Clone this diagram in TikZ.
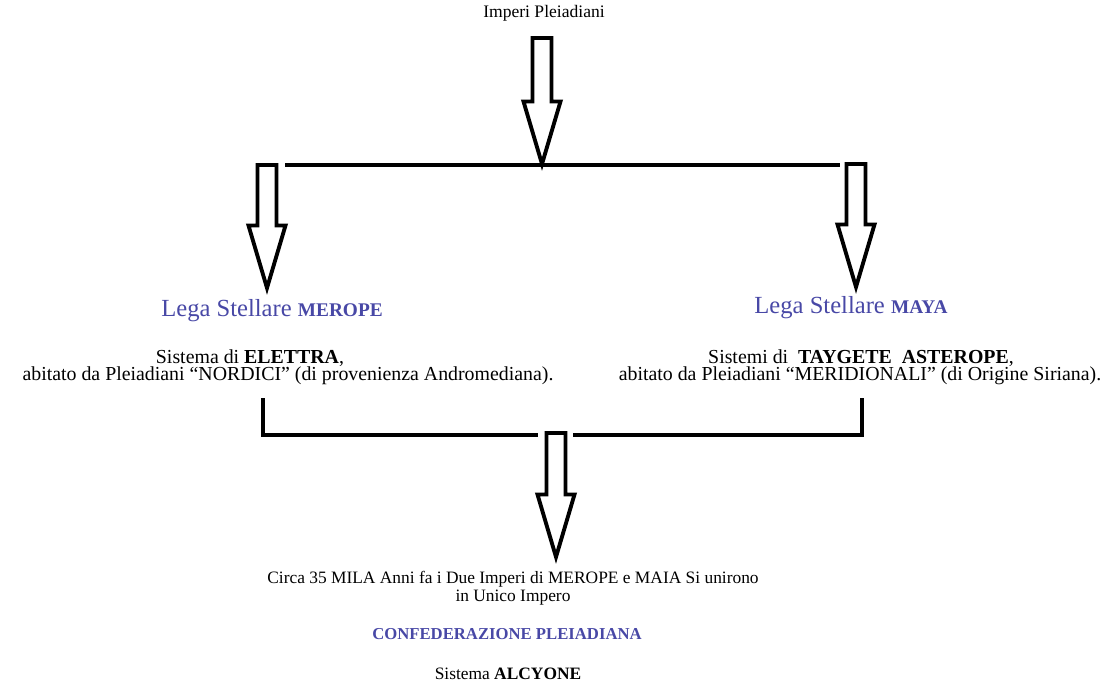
\documentclass[tikz,border=0pt]{standalone}
\usepackage{fontspec}
\setmainfont{Liberation Serif}
\usetikzlibrary{calc, positioning}
\definecolor{legablue}{RGB}{72,72,166}
\tikzset{
  body/.style = {inner sep=0pt, align=center, font=\fontsize{9.9}{10.4}\selectfont},
  desc/.style = {inner sep=0pt, align=center, font=\fontsize{11.3}{13}\selectfont},
  heading/.style = {inner sep=0pt, font=\fontsize{10}{12}\selectfont},
  lega/.style = {inner sep=0pt, text=legablue, font=\fontsize{14}{16}\selectfont},
  confed/.style = {inner sep=0pt, text=legablue, font=\fontsize{9.5}{12}\selectfont\bfseries},
  bar/.style = {line width=2.2pt},
  hollow/.style = {line width=2.2pt, line join=miter, fill=white}
}
% hollow block arrow from #1 (top of shaft) down to #2 (tip)
\newcommand{\hollowarrow}[2]{%
  \draw[hollow] let \p1=(#1), \p2=(#2) in
    (\x1-0.19cm,\y1) -- (\x1+0.19cm,\y1) -- (\x1+0.19cm,\y2+1.25cm) -- (\x1+0.37cm,\y2+1.25cm)
    -- (\x1,\y2) -- (\x1-0.37cm,\y2+1.25cm) -- (\x1-0.19cm,\y2+1.25cm) -- cycle;}

\begin{document}
\begin{tikzpicture}[x=0.02cm, y=-0.02cm]
\useasboundingbox (0,0) rectangle (1115,682);

% Top
\node[heading] (imperi) at (544,13) {Imperi Pleiadiani};
\coordinate (impS) at (542,38);
\coordinate (split) at (542,164);
\coordinate (splitL) at (285,165);
\coordinate (splitR) at (840,165);

% Two leagues
\coordinate (meropeN) at (267,165);
\coordinate (meropeS) at (267,288);
\coordinate (mayaN) at (856,164);
\coordinate (mayaS) at (856,287);

\node[lega] (merope) at (272,311) {Lega Stellare {\fontsize{11}{13}\selectfont\bfseries MEROPE}};
\node[lega] (maya) at (851,308) {Lega Stellare {\fontsize{11}{13}\selectfont\bfseries MAYA}};

\node[desc] (sysA) at (250,358) {Sistema di \textbf{ELETTRA},};
\node[desc] (popA) at (288,376) {abitato da Pleiadiani “NORDICI” (di provenienza Andromediana).};
\node[desc] (sysB) at (861,358) {Sistemi di \ \textbf{TAYGETE \ ASTEROPE},};
\node[desc] (popB) at (860,376) {abitato da Pleiadiani “MERIDIONALI” (di Origine Siriana).};

% Join
\coordinate (joinA) at (263,398);
\coordinate (joinAE) at (538,435);
\coordinate (joinB) at (862,398);
\coordinate (joinBW) at (573,435);
\coordinate (joinN) at (556,433);
\coordinate (joinS) at (556,557);

% Bottom output
\node[body] (circa) at (513,588) {Circa 35 MILA Anni fa i Due Imperi di MEROPE e MAIA Si unirono\\ in Unico Impero};
\node[confed] (confed) at (507,634) {CONFEDERAZIONE PLEIADIANA};
\node[body] (alcyone) at (508,674) {Sistema \textbf{ALCYONE}};

% Arrows
\hollowarrow{impS}{split}
\draw[bar] (splitL) -- (splitR);
\hollowarrow{meropeN}{meropeS}
\hollowarrow{mayaN}{mayaS}

\draw[bar] (joinA) |- (joinAE);
\draw[bar] (joinB) |- (joinBW);
\hollowarrow{joinN}{joinS}

\end{tikzpicture}
\end{document}
